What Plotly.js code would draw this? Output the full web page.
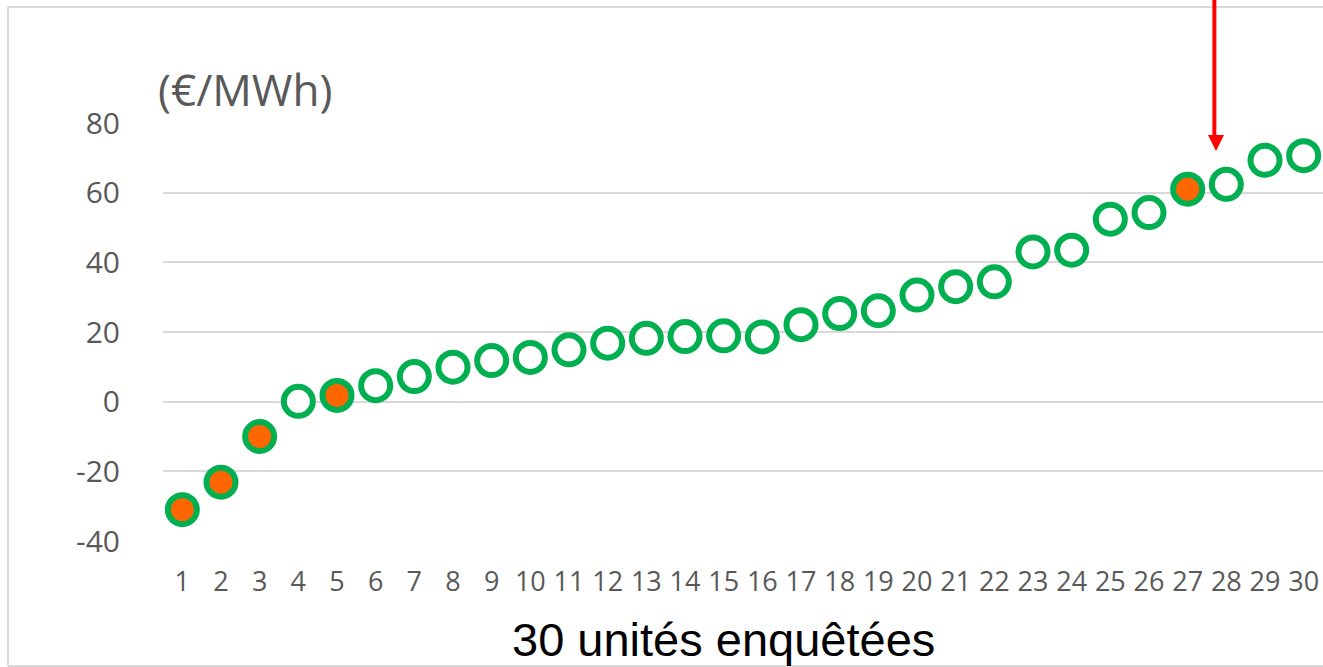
<!DOCTYPE html>
<html>
<head>
<meta charset="utf-8">
<script src="https://cdn.plot.ly/plotly-3.0.1.min.js"></script>
<style>
  html, body { margin: 0; padding: 0; background: #ffffff; overflow: hidden; }
  #chart { width: 1323px; height: 667px; }
</style>
</head>
<body>
<div id="chart"></div>
<script>
// ---- data ----
const units = [1,2,3,4,5,6,7,8,9,10,11,12,13,14,15,16,17,18,19,20,21,22,23,24,25,26,27,28,29,30];
const tickLabels = units.map(String);
const prices = [-31.0, -23.1, -10.0, 0.1, 1.8, 4.6, 7.2, 9.9, 11.8, 12.7,
                14.9, 16.8, 18.2, 18.7, 18.9, 18.6, 22.1, 25.3, 26.1, 30.6,
                33.0, 34.4, 43.0, 43.5, 52.4, 54.3, 61.0, 62.4, 69.3, 70.6];
const highlighted = [1, 2, 3, 5, 27];
const arrowUnit = 27.69;
const yUnitLabel = "(€/MWh)";
const xTitle = "30 unités enquêtées";

// ---- layout geometry (pixels) ----
const W = 1323, H = 667;
const M = { l: 163, r: 0, t: 123, b: 126 };
const pw = W - M.l - M.r, ph = H - M.t - M.b;
const px = x => (x - M.l) / pw;          // pixel x -> paper x
const py = y => (H - M.b - y) / ph;      // pixel y -> paper y

const GREEN = '#00b050', ORANGE = '#ff6600', GRID = '#d9d9d9', TXT = '#595959';

const fills = units.map(u => highlighted.includes(u) ? ORANGE : '#ffffff');

const trace = {
  x: units,
  y: prices,
  type: 'scatter',
  mode: 'markers',
  marker: {
    size: 29,
    color: fills,
    line: { color: GREEN, width: 6 }
  },
  hoverinfo: 'x+y',
  showlegend: false
};

const frameLine = (x0, y0, x1, y1) => ({
  type: 'line', xref: 'paper', yref: 'paper',
  x0: px(x0), x1: px(x1), y0: py(y0), y1: py(y1),
  line: { color: GRID, width: 2 }, layer: 'below'
});

const layout = {
  width: W, height: H,
  margin: M,
  paper_bgcolor: '#ffffff',
  plot_bgcolor: '#ffffff',
  font: { family: 'Open Sans, sans-serif', color: TXT },
  xaxis: {
    range: [0.5, 30.5],
    tickmode: 'array',
    tickvals: units,
    ticktext: tickLabels,
    showgrid: false,
    zeroline: false,
    showline: false,
    ticks: '',
    ticklabelstandoff: 22,
    tickfont: { family: 'Open Sans, sans-serif', size: 27, color: TXT },
    fixedrange: true
  },
  yaxis: {
    range: [-40, 80],
    tickmode: 'array',
    tickvals: [-40, -20, 0, 20, 40, 60, 80],
    ticktext: ['-40', '-20', '0', '20', '40', '60', '80'],
    showgrid: true,
    gridcolor: GRID,
    gridwidth: 2,
    zeroline: true,
    zerolinecolor: GRID,
    zerolinewidth: 2,
    showline: false,
    ticks: '',
    ticklabelstandoff: 42,
    tickfont: { family: 'Open Sans, sans-serif', size: 30, color: TXT },
    fixedrange: true
  },
  shapes: [
    // outer frame of the chart area (left, top, bottom; right edge lies outside the picture)
    frameLine(8, 7, 8, 666),
    frameLine(8, 7, 1330, 7),
    frameLine(8, 666, 1330, 666),
    // red arrow shaft
    { type: 'line', xref: 'x', yref: 'paper',
      x0: arrowUnit, x1: arrowUnit, y0: py(-5), y1: py(137),
      line: { color: '#ff0000', width: 4 } },
    // red arrow head
    { type: 'path', xref: 'paper', yref: 'paper',
      path: 'M ' + px(1216 - 8) + ' ' + py(135) + ' L ' + px(1216 + 8) + ' ' + py(135) +
            ' L ' + px(1216) + ' ' + py(151) + ' Z',
      fillcolor: '#ff0000', line: { color: '#ff0000', width: 0 } }
  ],
  annotations: [
    { xref: 'paper', yref: 'paper', x: px(156), y: py(89),
      xanchor: 'left', yanchor: 'middle', showarrow: false,
      text: yUnitLabel,
      font: { family: 'Open Sans, sans-serif', size: 44, color: TXT } },
    { xref: 'paper', yref: 'paper', x: px(723), y: py(639),
      xanchor: 'center', yanchor: 'middle', showarrow: false,
      text: xTitle,
      font: { family: 'Liberation Sans, Arial, sans-serif', size: 47, color: '#000000' } }
  ]
};

Plotly.newPlot('chart', [trace], layout, { displayModeBar: false, staticPlot: true });
</script>
</body>
</html>
